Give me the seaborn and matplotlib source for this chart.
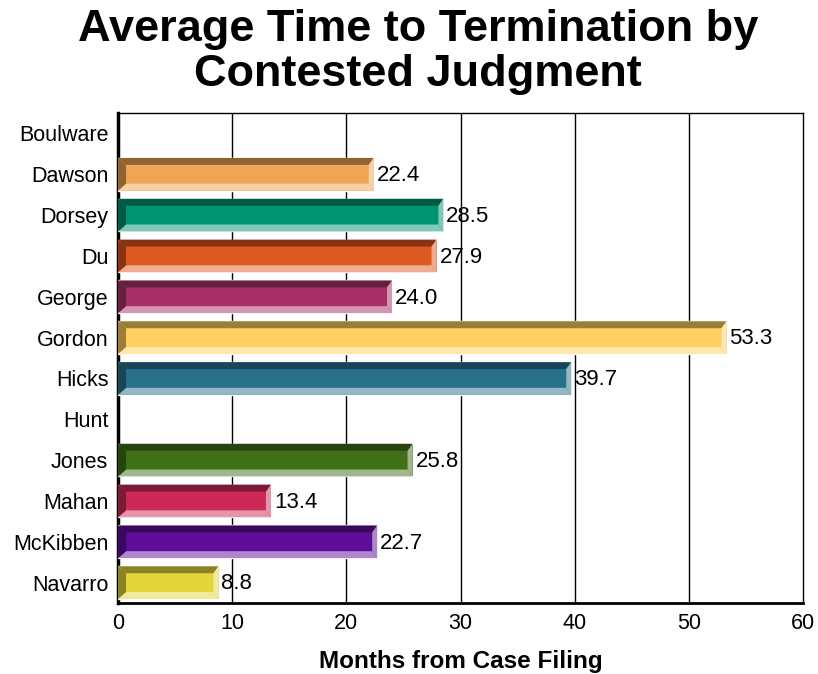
import numpy as np
import pandas as pd
import matplotlib
matplotlib.use("Agg")
import matplotlib.pyplot as plt
from matplotlib.patches import Polygon
import seaborn as sns

judges = ["Boulware", "Dawson", "Dorsey", "Du", "George", "Gordon", "Hicks",
          "Hunt", "Jones", "Mahan", "McKibben", "Navarro"]
months = [np.nan, 22.4, 28.5, 27.9, 24.0, 53.3, 39.7, np.nan, 25.8, 13.4, 22.7, 8.8]

main_colors = ["#FFFFFF", "#F0A555", "#009473", "#DE5A21", "#A62F66", "#FFCF61",
               "#26728A", "#FFFFFF", "#3F7016", "#CC2957", "#5E0D99", "#E3D63B"]
dark_colors = ["#FFFFFF", "#8F6433", "#005A44", "#873314", "#65203F", "#9A7D3A",
               "#184654", "#FFFFFF", "#26440D", "#7C1935", "#39085D", "#8A8224"]
light_colors = ["#FFFFFF", "#F8D0A5", "#80C9B8", "#F0AC90", "#D496B2", "#FFE7B0",
                "#92B8C4", "#FFFFFF", "#9FB78A", "#E594AB", "#AE86CC", "#F1EA9D"]

df = pd.DataFrame({"judge": judges, "months": months})

sns.set_style("white")
plt.rcParams["font.family"] = ["Liberation Sans", "DejaVu Sans"]
plt.rcParams["text.color"] = "black"

fig = plt.figure(figsize=(8.18, 6.74), dpi=100)
ax = fig.add_axes([0.1443, 0.1053, 0.8374, 0.727])

sns.barplot(data=df, x="months", y="judge", hue="judge", palette=main_colors,
            orient="h", width=0.8, saturation=1, legend=False, ax=ax, zorder=3)

ax.set_xlim(0, 60)
ax.set_ylim(11.5, -0.5)
ax.set_xticks(range(0, 61, 10))
for g in range(10, 60, 10):
    ax.axvline(g, color="black", lw=1, zorder=1)

# bevel: sizes in data units
l_w, r_w = 0.7, 0.44     # left dark / right light widths (months)
t_h, b_h = 0.17, 0.17    # top dark / bottom light heights (category units)
for p in list(ax.patches):
    w = p.get_width()
    if not np.isfinite(w) or w <= 0:
        continue
    x0 = p.get_x()
    x1 = x0 + w
    yt = p.get_y()
    yb = yt + p.get_height()
    idx = int(round((yt + yb) / 2))
    dk, lt, val = dark_colors[idx], light_colors[idx], months[idx]
    polys = [
        ([(x0, yt), (x1, yt), (x1 - r_w, yt + t_h), (x0 + l_w, yt + t_h)], dk),
        ([(x0, yb), (x1, yb), (x1 - r_w, yb - b_h), (x0 + l_w, yb - b_h)], lt),
        ([(x1, yt), (x1, yb), (x1 - r_w, yb - b_h), (x1 - r_w, yt + t_h)], lt),
        ([(x0, yt), (x0 + l_w, yt + t_h), (x0 + l_w, yb - b_h), (x0, yb)], dk),
    ]
    for pts, c in polys:
        ax.add_patch(Polygon(pts, closed=True, facecolor=c, edgecolor="none", zorder=4))
    ax.text(x1 + 0.25, (yt + yb) / 2 + 0.03, f"{val:.1f}", va="center", ha="left",
            fontsize=16, color="black", zorder=5)

for side in ["top", "right"]:
    ax.spines[side].set_linewidth(1)
    ax.spines[side].set_color("black")
ax.spines["left"].set_linewidth(2.5)
ax.spines["bottom"].set_linewidth(2)
for side in ["left", "bottom"]:
    ax.spines[side].set_color("black")

ax.tick_params(axis="both", labelsize=15.5, length=0, pad=7, colors="black")
ax.set_ylabel("")
ax.set_xlabel("Months from Case Filing", fontsize=17.5, fontweight="bold",
              labelpad=12, color="black")

fig.suptitle("Average Time to Termination by\nContested Judgment", x=0.511, y=0.987,
             fontsize=32.5, fontweight="bold", linespacing=1.12, color="black")

fig.savefig("out.png", dpi=100)
